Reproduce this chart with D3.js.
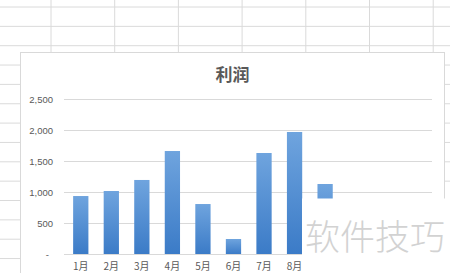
<!DOCTYPE html>
<html><head><meta charset="utf-8">
<script src="https://cdn.jsdelivr.net/npm/d3@7"></script>
<style>html,body{margin:0;padding:0;background:#fff;overflow:hidden}</style>
</head><body>
<svg id="c" width="450" height="273"></svg>
<script>
const months = ["1月","2月","3月","4月","5月","6月","7月","8月","9月","10月","11月","12月"];
const profit = [935, 1016, 1194, 1661, 806, 242, 1629, 1968, 1129];
const yTicks = [0, 500, 1000, 1500, 2000, 2500];
const title = "利润";
const watermark = "软件技巧";

const svg = d3.select("#c");
const W = 450, H = 273;
const overlayX = 302, overlayY = 198.5;

// spreadsheet grid background
const g0 = svg.append("g");
d3.range(0, 15).forEach(k => {
  const y = 7 + 19.35 * k;
  g0.append("line").attr("x1", 0).attr("x2", W).attr("y1", y).attr("y2", y)
    .attr("stroke", "#dadada").attr("stroke-width", 1);
});
d3.range(0, 8).forEach(k => {
  const x = 51 + 63.7 * k;
  g0.append("line").attr("x1", x).attr("x2", x).attr("y1", 0).attr("y2", H)
    .attr("stroke", "#dadada").attr("stroke-width", 1);
});

// chart area
svg.append("rect").attr("x", 20.5).attr("y", 52.5).attr("width", 424).attr("height", 240)
  .attr("fill", "#fff").attr("stroke", "#d9d9d9");

const defs = svg.append("defs");
const grad = defs.append("linearGradient").attr("id", "bg").attr("x1", 0).attr("y1", 0).attr("x2", 0).attr("y2", 1);
grad.append("stop").attr("offset", "0%").attr("stop-color", "#6fa4de");
grad.append("stop").attr("offset", "100%").attr("stop-color", "#3b7bc7");

const x = d3.scaleBand().domain(months).range([65.5, 432]).paddingInner(0.5).paddingOuter(0.25);
const y = d3.scaleLinear().domain([0, 2500]).range([254, 99]);

// gridlines
svg.append("g").selectAll("line").data(yTicks).join("line")
  .attr("x1", 64).attr("x2", 432)
  .attr("y1", d => Math.round(y(d)) + 0.5).attr("y2", d => Math.round(y(d)) + 0.5)
  .attr("stroke", "#d9d9d9").attr("stroke-width", 1);

// y axis
const ya = svg.append("g").attr("transform", "translate(58,0)")
  .call(d3.axisLeft(y).tickValues(yTicks).tickSize(0).tickPadding(5)
    .tickFormat(d => d === 0 ? "-" : d3.format(",")(d)));
ya.select(".domain").remove();
ya.selectAll("text").attr("font-family", "'Liberation Sans', Arial, sans-serif")
  .attr("font-size", "9.5px").attr("fill", "#595959");
ya.selectAll(".tick").filter(d => d === 0).select("text").attr("dx", "-4");

// bars
svg.append("g").selectAll("rect").data(profit).join("rect")
  .attr("x", (d, i) => x(months[i]))
  .attr("width", x.bandwidth())
  .attr("y", d => y(d))
  .attr("height", d => y(0) - y(d))
  .attr("fill", "url(#bg)");

// x axis (labels under the watermark overlay are hidden in the picture)
const visibleMonths = months.filter(m => x(m) + x.bandwidth() <= overlayX + 2);
const xa = svg.append("g").attr("transform", "translate(0,254)")
  .call(d3.axisBottom(x).tickValues(visibleMonths).tickSize(0).tickPadding(9));
xa.select(".domain").remove();
xa.selectAll("text").attr("font-family", "'Noto Sans CJK SC', sans-serif")
  .attr("font-size", "10px").attr("fill", "#595959");

// title
svg.append("text").attr("x", 232.5).attr("y", 81).attr("text-anchor", "middle")
  .attr("font-family", "'Noto Sans CJK SC', sans-serif").attr("font-weight", "bold")
  .attr("font-size", "17px").attr("fill", "#595959").text(title);

// watermark overlay
svg.append("rect").attr("x", overlayX).attr("y", overlayY).attr("width", W - overlayX).attr("height", H - overlayY).attr("fill", "#fff");
svg.append("text").attr("x", 375).attr("y", 250).attr("text-anchor", "middle")
  .attr("font-family", "'Noto Sans CJK SC', sans-serif").attr("font-weight", "300")
  .attr("font-size", "35px").attr("fill", "#d2d2d2").text(watermark);
</script>
</body></html>
